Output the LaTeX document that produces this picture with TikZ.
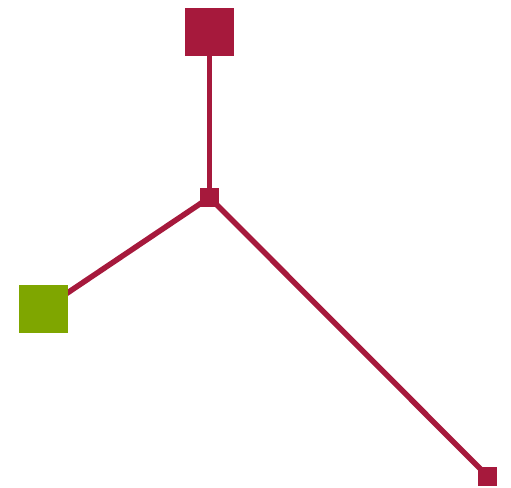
\documentclass[tikz,border=0pt]{standalone}
\definecolor{crim}{HTML}{A6193C}
\definecolor{olive}{HTML}{7FA600}
\pgfdeclarelayer{bg}
\pgfsetlayers{bg,main}
\tikzset{
  bigsq/.style={rectangle, minimum width=49pt, minimum height=48pt, inner sep=0pt, draw=none},
  smallsq/.style={rectangle, minimum size=19pt, inner sep=0pt, fill=crim, draw=none},
  edge/.style={draw=crim, line width=5.5pt}
}
\begin{document}
\begin{tikzpicture}[x=1pt,y=-1pt]
\useasboundingbox (0,0) rectangle (511,487);
\node[bigsq, fill=crim] (top) at (209.5,32) {};
\node[smallsq] (hub) at (209.5,197.5) {};
\node[bigsq, fill=olive] (green) at (43.5,309) {};
\node[smallsq] (br) at (487.5,476) {};
\begin{pgfonlayer}{bg}
\draw[edge] (top.center) -- (hub.center);
\draw[edge] (hub.center) -- (green.center);
\draw[edge] (hub.center) -- (br.center);
\end{pgfonlayer}
\end{tikzpicture}
\end{document}
